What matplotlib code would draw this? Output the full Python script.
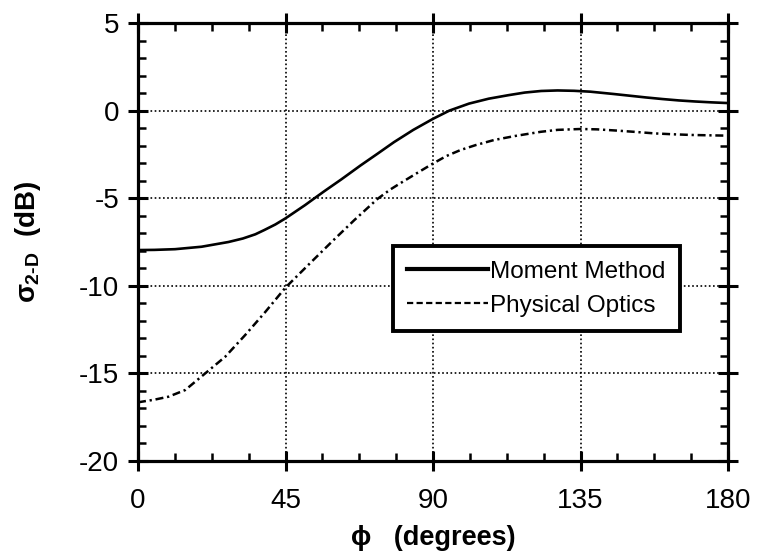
import matplotlib
matplotlib.use("Agg")
import matplotlib.pyplot as plt
from matplotlib.lines import Line2D
from matplotlib.ticker import MultipleLocator, FixedLocator

plt.rcParams['font.family'] = ['Liberation Sans', 'DejaVu Sans']
plt.rcParams['mathtext.fontset'] = 'custom'
plt.rcParams['mathtext.rm'] = 'Liberation Sans:bold'
plt.rcParams['mathtext.it'] = 'Liberation Sans:bold'
plt.rcParams['mathtext.bf'] = 'Liberation Sans:bold'
plt.rcParams['mathtext.sf'] = 'Liberation Sans:bold'

# ---- data ----
mm_phi = [0, 5, 11.3, 19.4, 27.6, 32, 35.8, 38.5, 41.9, 45, 51, 53.5, 57, 62, 67.9,
          73, 78.1, 84, 90, 95, 101, 107, 113, 118, 123, 128, 133, 138, 145, 150,
          155, 160, 165, 170, 175, 180]
mm_db = [-7.96, -7.95, -7.91, -7.77, -7.5, -7.3, -7.06, -6.82, -6.5, -6.15,
         -5.39, -5.05, -4.58, -3.93, -3.13, -2.47, -1.8, -1.1, -0.47, 0.0, 0.4,
         0.68, 0.88, 1.03, 1.12, 1.15, 1.13, 1.08, 0.95, 0.85, 0.75, 0.66, 0.58,
         0.52, 0.47, 0.43]

po_phi = [0, 5, 9.3, 14.4, 20.5, 26.6, 32.7, 38.8, 45, 52, 59.6, 66, 73, 77, 80,
          85, 90, 94, 98.4, 103, 108.6, 115, 122.9, 128, 135, 140, 146,
          152, 157.5, 163, 168.75, 174, 180]
po_db = [-16.65, -16.5, -16.33, -15.95, -15.0, -14.05, -12.81, -11.5, -10.1,
         -8.8, -7.4, -6.25, -5.05, -4.5, -4.15, -3.58, -3.02, -2.6, -2.25,
         -1.97, -1.68, -1.45, -1.21, -1.1, -1.05, -1.07, -1.14, -1.22, -1.3,
         -1.35, -1.39, -1.41, -1.43]

xticks = [0, 45, 90, 135, 180]
xtick_labels = ['0', '45', '90', '135', '180']
yticks = [-20, -15, -10, -5, 0, 5]
ytick_labels = ['-20', '-15', '-10', '-5', '0', '5']
series_names = ['Moment Method', 'Physical Optics']

fig = plt.figure(figsize=(7.6, 5.52), dpi=100)
ax = fig.add_axes([138/760, 1-461/552, 590/760, 438/552])

ax.plot(mm_phi, mm_db, color='black', lw=1.9, solid_capstyle='butt')
ax.plot(po_phi, po_db, color='black', lw=1.8, dashes=(3.2, 1.5, 0.9, 1.5))

ax.set_xlim(0, 180)
ax.set_ylim(-20, 5)
ax.xaxis.set_major_locator(FixedLocator(xticks))
ax.set_xticklabels(xtick_labels)
ax.yaxis.set_major_locator(FixedLocator(yticks))
ax.set_yticklabels(ytick_labels)
ax.xaxis.set_minor_locator(MultipleLocator(11.25))
ax.yaxis.set_minor_locator(MultipleLocator(1))

ax.grid(True, which='major', color='black', linestyle=(0, (1.0, 1.5)), lw=1.2)

for s in ax.spines.values():
    s.set_linewidth(2.3)

ax.tick_params(which='major', direction='inout', length=15, width=2.2,
               top=True, right=True, labelsize=20, pad=6, color='black')
ax.tick_params(which='minor', direction='in', length=6, width=1.8,
               top=True, right=True)
ax.tick_params(axis='x', which='major', pad=12)

ax.set_xlabel('\u03d5   (degrees)', fontsize=19.5, fontweight='bold', labelpad=8)
ax.set_ylabel(r'$\sigma_{2\text{-}D}$  (dB)', fontsize=20, fontweight='bold',
              labelpad=26)

handles = [Line2D([], [], color='black', lw=3.0),
           Line2D([], [], color='black', lw=1.6, dashes=(2.8, 1.5))]
leg = ax.legend(handles, series_names, loc='upper left',
                bbox_to_anchor=(0.432, 0.491), fontsize=17.5, frameon=True,
                fancybox=False, handlelength=3.3, handletextpad=0.1,
                borderpad=0.6, labelspacing=0.5, borderaxespad=0)
leg.get_frame().set_edgecolor('black')
leg.get_frame().set_linewidth(2.8)
leg.get_frame().set_facecolor('white')
leg.get_frame().set_alpha(1)

fig.savefig('out.png', dpi=100)
